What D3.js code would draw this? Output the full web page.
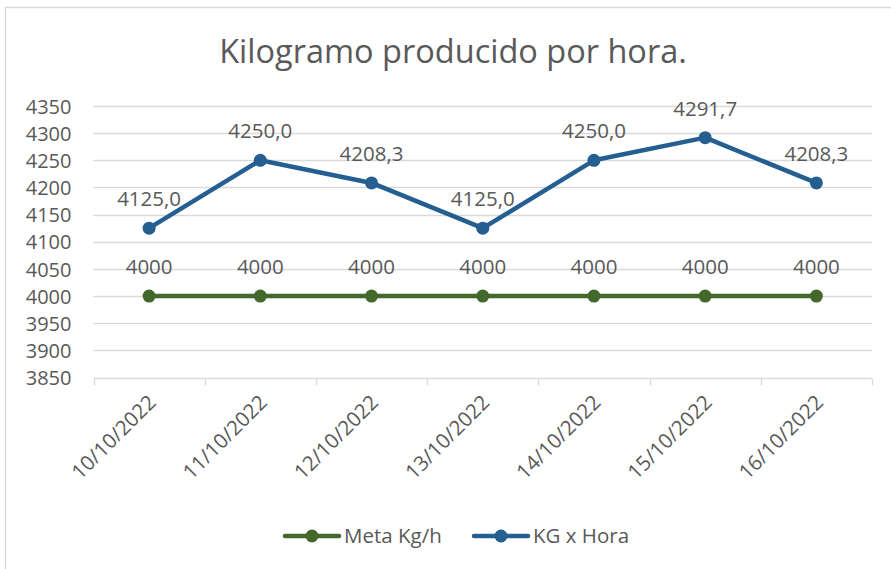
<!DOCTYPE html>
<html>
<head>
<meta charset="utf-8">
<script src="https://cdn.jsdelivr.net/npm/d3@7"></script>
<style>
  html, body { margin: 0; padding: 0; background: #fff; }
  svg { display: block; }
  text { font-family: "Open Sans", Lato, sans-serif; fill: #595959; }
</style>
</head>
<body>
<svg id="chart" width="891" height="569"></svg>
<script>
// Daily production data
const categories = ["10/10/2022", "11/10/2022", "12/10/2022", "13/10/2022", "14/10/2022", "15/10/2022", "16/10/2022"];
const metaValues = [4000, 4000, 4000, 4000, 4000, 4000, 4000];
const kgHoraValues = [4125.0, 4250.0, 4208.3, 4125.0, 4250.0, 4291.7, 4208.3];
const yTicks = [3850, 3900, 3950, 4000, 4050, 4100, 4150, 4200, 4250, 4300, 4350];
const title = "Kilogramo producido por hora.";
const seriesNames = ["Meta Kg/h", "KG x Hora"];

const colors = { meta: "#43682B", kg: "#255E91", grid: "#D9D9D9", text: "#595959" };
const labelSize = "20.5px";

const svg = d3.select("#chart");
const plot = { left: 93.5, right: 872, top: 106, bottom: 377.5 };

// chart frame
svg.append("rect")
  .attr("x", 5.5).attr("y", 7.5).attr("width", 900).attr("height", 600)
  .attr("fill", "#fff").attr("stroke", "#D9D9D9").attr("stroke-width", 1.5);

// title
svg.append("text")
  .attr("x", 453).attr("y", 63)
  .attr("text-anchor", "middle")
  .style("font-size", "32.5px")
  .text(title);

const x = d3.scaleBand().domain(categories).range([plot.left, plot.right]).paddingInner(0).paddingOuter(0);
const y = d3.scaleLinear().domain([3850, 4350]).range([plot.bottom, plot.top]);
const cx = d => x(d) + x.bandwidth() / 2;

// horizontal gridlines
svg.append("g")
  .selectAll("line")
  .data(yTicks.filter(t => t !== 3850))
  .join("line")
  .attr("x1", plot.left).attr("x2", plot.right)
  .attr("y1", d => Math.round(y(d)) + 0.5).attr("y2", d => Math.round(y(d)) + 0.5)
  .attr("stroke", colors.grid).attr("stroke-width", 1.3);

// y axis labels
const yAxis = d3.axisLeft(y).tickValues(yTicks).tickSize(0).tickPadding(0).tickFormat(d3.format("d"));
const yg = svg.append("g").attr("transform", `translate(${plot.left - 22},0)`).call(yAxis);
yg.select(".domain").remove();
yg.selectAll("text").style("font-size", "20px").attr("fill", colors.text).attr("dy", "0.36em");

// x axis with ticks at category boundaries
const xg = svg.append("g").attr("transform", `translate(0,${Math.round(plot.bottom) + 0.5})`);
xg.append("line")
  .attr("x1", plot.left).attr("x2", plot.right)
  .attr("stroke", colors.grid).attr("stroke-width", 1.3);
const boundaries = categories.map(c => x(c)).concat([plot.right]);
xg.selectAll("line.tick")
  .data(boundaries)
  .join("line")
  .attr("class", "tick")
  .attr("x1", d => Math.round(d) + 0.5).attr("x2", d => Math.round(d) + 0.5)
  .attr("y1", 0).attr("y2", 7)
  .attr("stroke", colors.grid).attr("stroke-width", 1.3);
xg.selectAll("text")
  .data(categories)
  .join("text")
  .attr("transform", d => `translate(${cx(d) + 3},${20}) rotate(-45)`)
  .attr("text-anchor", "end")
  .attr("dy", "0.35em")
  .style("font-size", labelSize)
  .text(d => d);

// series
const line = d3.line().x((d, i) => cx(categories[i])).y(d => y(d));

function drawSeries(values, color, fmt) {
  const g = svg.append("g");
  g.append("path")
    .datum(values)
    .attr("d", line)
    .attr("fill", "none")
    .attr("stroke", color)
    .attr("stroke-width", 4.5)
    .attr("stroke-linejoin", "round")
    .attr("stroke-linecap", "round");
  g.selectAll("circle")
    .data(values)
    .join("circle")
    .attr("cx", (d, i) => cx(categories[i]))
    .attr("cy", d => y(d))
    .attr("r", 6.5)
    .attr("fill", color);
  g.selectAll("text")
    .data(values)
    .join("text")
    .attr("x", (d, i) => cx(categories[i]))
    .attr("y", d => y(d) - 22)
    .attr("text-anchor", "middle")
    .style("font-size", labelSize)
    .text(fmt);
}

drawSeries(metaValues, colors.meta, d => d3.format("d")(d));
drawSeries(kgHoraValues, colors.kg, d => d.toFixed(1).replace(".", ","));

// legend
const legend = svg.append("g").attr("transform", "translate(0,536)");
const legendItems = [
  { name: seriesNames[0], color: colors.meta, x0: 285 },
  { name: seriesNames[1], color: colors.kg, x0: 474 }
];
legendItems.forEach(it => {
  legend.append("line")
    .attr("x1", it.x0).attr("x2", it.x0 + 54)
    .attr("y1", 0).attr("y2", 0)
    .attr("stroke", it.color).attr("stroke-width", 4.5).attr("stroke-linecap", "round");
  legend.append("circle").attr("cx", it.x0 + 27).attr("cy", 0).attr("r", 6.5).attr("fill", it.color);
  legend.append("text")
    .attr("x", it.x0 + 59).attr("y", 0).attr("dy", "0.35em")
    .style("font-size", labelSize)
    .text(it.name);
});
</script>
</body>
</html>
